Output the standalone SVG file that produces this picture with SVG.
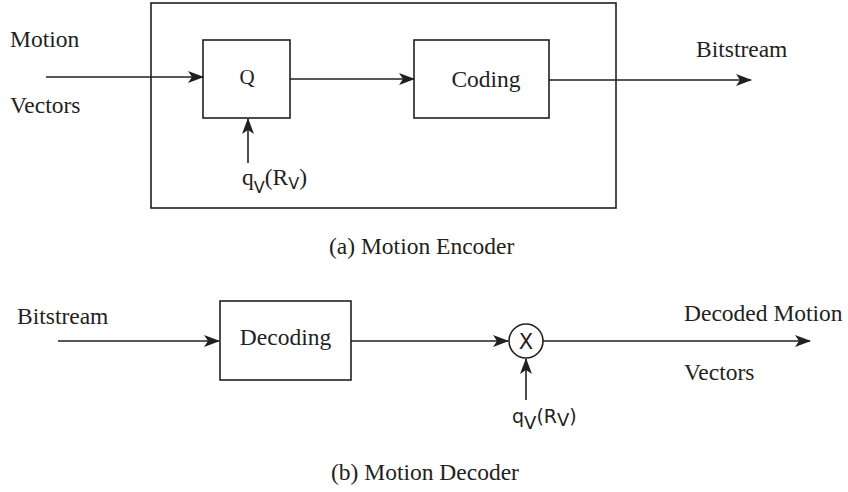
<svg xmlns="http://www.w3.org/2000/svg" width="848" height="492" viewBox="0 0 848 492">
<defs>
<marker id="ah" markerWidth="16" markerHeight="12" refX="15" refY="6" orient="auto" markerUnits="userSpaceOnUse">
<path d="M0,0 L16,6 L0,12 L4,6 Z" fill="#231f20"/>
</marker>
<style>
.box{fill:none;stroke:#231f20;stroke-width:1.6}
.ln{fill:none;stroke:#231f20;stroke-width:1.6;marker-end:url(#ah)}
.t{font-family:"Liberation Serif",serif;font-size:23.5px;fill:#231f20}
.s{font-family:"DejaVu Sans","Open Sans",sans-serif;font-size:19px;fill:#231f20}
</style>
</defs>
<rect width="848" height="492" fill="#fff"/>
<g id="encoder">
<rect class="box" x="151" y="3" width="465" height="205"/>
</g>
<g id="Q">
<rect class="box" x="203" y="40" width="87" height="78"/>
<text class="t" x="247" y="84" text-anchor="middle" style="font-size:21px">Q</text>
</g>
<g id="coding">
<rect class="box" x="414" y="40" width="135" height="78"/>
<text class="t" x="486" y="87" text-anchor="middle">Coding</text>
</g>
<g id="decoding">
<rect class="box" x="220" y="301" width="131" height="79"/>
<text class="t" x="285.5" y="345" text-anchor="middle">Decoding</text>
</g>
<g id="mult">
<circle class="box" cx="526" cy="341" r="17"/>
<text class="s" x="526" y="348.5" text-anchor="middle" style="font-size:21px">X</text>
</g>
<g id="connectors">
<line class="ln" x1="46" y1="77" x2="203" y2="77"/>
<line class="ln" x1="290" y1="79" x2="414" y2="79"/>
<line class="ln" x1="549" y1="80" x2="751" y2="80"/>
<line class="ln" x1="248" y1="163" x2="248" y2="119"/>
<line class="ln" x1="58" y1="341" x2="219" y2="341"/>
<line class="ln" x1="351" y1="341" x2="508" y2="341"/>
<line class="ln" x1="543" y1="341" x2="810" y2="341"/>
<line class="ln" x1="526" y1="400" x2="526" y2="359"/>
</g>
<g id="labels">
<text class="t" x="10" y="47">Motion</text>
<text class="t" x="10" y="113">Vectors</text>
<text class="t" x="696" y="57">Bitstream</text>
<text class="t" x="242" y="185">q<tspan dy="8" font-size="16" font-family="DejaVu Sans,sans-serif">V</tspan><tspan dy="-8">(R</tspan><tspan dy="4" font-size="16" font-family="DejaVu Sans,sans-serif">V</tspan><tspan dy="-4">)</tspan></text>
<text class="t" x="329" y="254">(a) Motion Encoder</text>
<text class="t" x="17" y="324">Bitstream</text>
<text class="t" x="684" y="321">Decoded Motion</text>
<text class="t" x="684" y="380">Vectors</text>
<text class="s" x="512" y="423">q<tspan dy="6" font-size="18">V</tspan><tspan dy="-6">(R</tspan><tspan dy="3" font-size="18">V</tspan><tspan dy="-3">)</tspan></text>
<text class="t" x="331" y="480">(b) Motion Decoder</text>
</g>
</svg>
